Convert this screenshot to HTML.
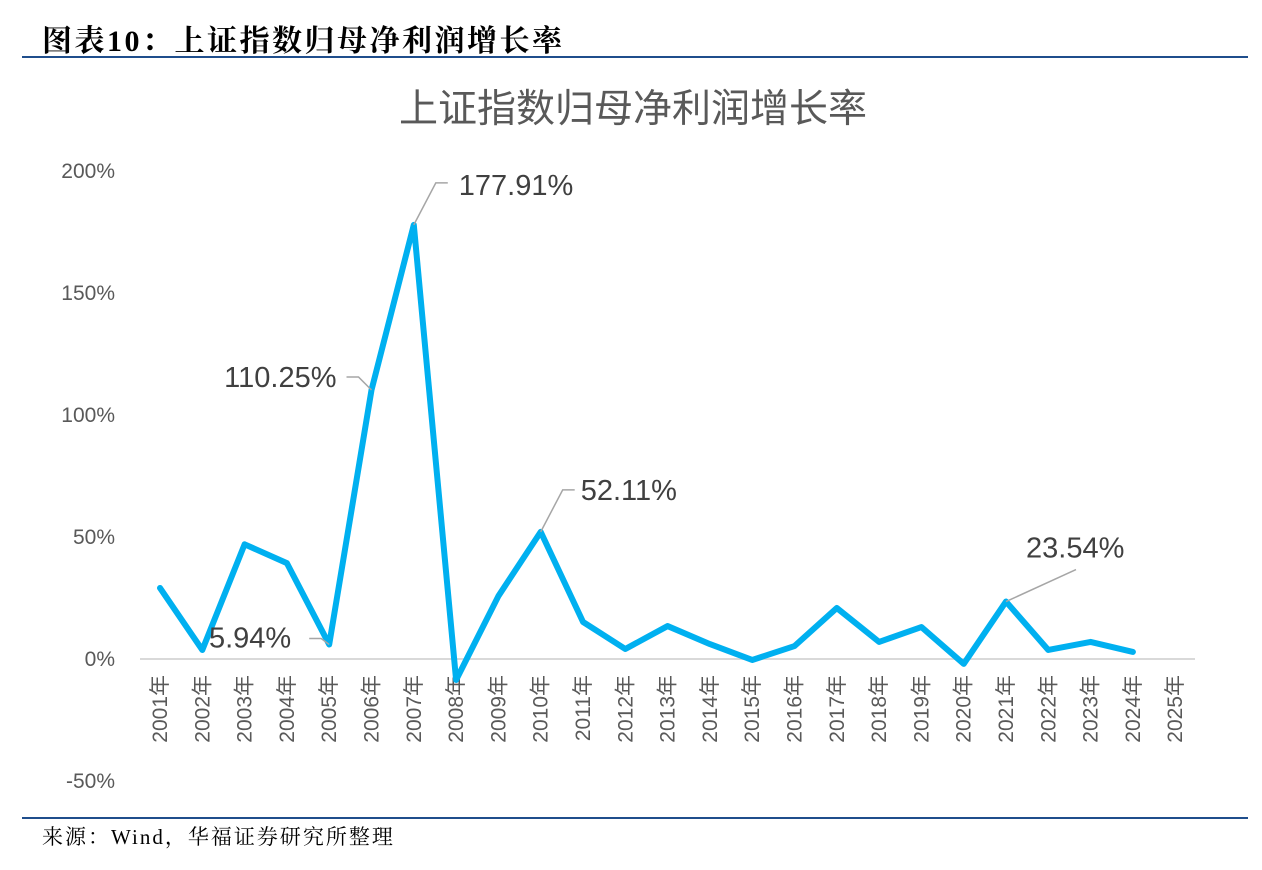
<!DOCTYPE html>
<html><head><meta charset="utf-8"><style>
body{margin:0;background:#fff;width:1262px;height:870px;overflow:hidden;position:relative;font-family:"Liberation Sans","Noto Sans CJK SC",sans-serif}
#hdr{position:absolute;left:42px;top:16px;font-family:"Liberation Serif","Noto Serif CJK SC",serif;font-weight:bold;font-size:30px;letter-spacing:2.5px;color:#000}
#l1{position:absolute;left:22px;top:56px;width:1226px;height:2px;background:#1f4e8c}
#l2{position:absolute;left:22px;top:817px;width:1226px;height:2px;background:#1f4e8c}
#src{position:absolute;left:42px;top:821px;font-family:"Liberation Serif","Noto Serif CJK SC",serif;font-size:21px;letter-spacing:2px;color:#000}
svg{position:absolute;left:0;top:0}
</style></head><body>
<div id="hdr">图表10：上证指数归母净利润增长率</div>
<div id="l1"></div>
<svg id="chart" width="1262" height="870"></svg>
<div id="l2"></div>
<div id="src">来源：Wind，华福证券研究所整理</div>
<script>
const categories=["2001年","2002年","2003年","2004年","2005年","2006年","2007年","2008年","2009年","2010年","2011年","2012年","2013年","2014年","2015年","2016年","2017年","2018年","2019年","2020年","2021年","2022年","2023年","2024年","2025年"];
const values=[29.1,3.7,47,39.3,5.94,110.25,177.91,-8.6,25.8,52.11,15.2,4.1,13.5,6.1,-0.4,5.3,20.9,7,13.1,-2,23.54,3.7,7,2.9];
const yTicks=[200,150,100,50,0,-50];
const yTickLabels=["200%","150%","100%","50%","0%","-50%"];
const annIdx=[4,5,6,9,20];
const annText=["5.94%","110.25%","177.91%","52.11%","23.54%"];
const NS="http://www.w3.org/2000/svg";
const svg=document.getElementById('chart');
const x=i=>160+i*42.3;
const y=v=>659-v*2.44;
function mk(t,a){const e=document.createElementNS(NS,t);for(const k in a)e.setAttribute(k,a[k]);svg.appendChild(e);return e;}
let t=mk('text',{x:633,y:122,'text-anchor':'middle','font-size':39,fill:'#595959'});t.textContent='上证指数归母净利润增长率';


yTicks.forEach((v,i)=>{const e=mk('text',{x:115,y:y(v)+7,'text-anchor':'end','font-size':21,fill:'#595959'});e.textContent=yTickLabels[i];

});
const ax=mk('line',{x1:140,x2:1195,y1:y(0),y2:y(0),stroke:'#d9d9d9','stroke-width':2});


categories.forEach((c,i)=>{const e=mk('text',{transform:`translate(${x(i)+7},${y(0)+16}) rotate(-90)`,'text-anchor':'end','font-size':21,fill:'#595959'});e.textContent=c;

});
const ln=mk('polyline',{points:values.map((v,i)=>x(i)+','+y(v)).join(' '),fill:'none',stroke:'#00b0f0','stroke-width':6,'stroke-linejoin':'round','stroke-linecap':'round'});


// label placement offsets relative to point: [textX, textBaselineY, anchor]
const lab=[[-38,3,'end'],[-35,-3,'end'],[45,-30,'start'],[40,-32,'start'],[20,-44,'start']];
const lead=[
 (px,py)=>`${px},${py} ${px-8},${py-6} ${px-20},${py-6}`,
 (px,py)=>`${px},${py} ${px-13},${py-13} ${px-25},${py-13}`,
 (px,py)=>`${px},${py} ${px+22},${py-42} ${px+34},${py-42}`,
 (px,py)=>`${px},${py} ${px+22},${py-42} ${px+34},${py-42}`,
 (px,py)=>`${px},${py} ${px+70},${py-32}`];
annIdx.forEach((idx,k)=>{const px=x(idx),py=y(values[idx]);
const l=mk('polyline',{points:lead[k](px,py),fill:'none',stroke:'#a6a6a6','stroke-width':1.5});


const e=mk('text',{x:px+lab[k][0],y:py+lab[k][1],'font-size':29,fill:'#404040','text-anchor':lab[k][2]});
e.textContent=annText[k];

});
</script>
</body></html>
